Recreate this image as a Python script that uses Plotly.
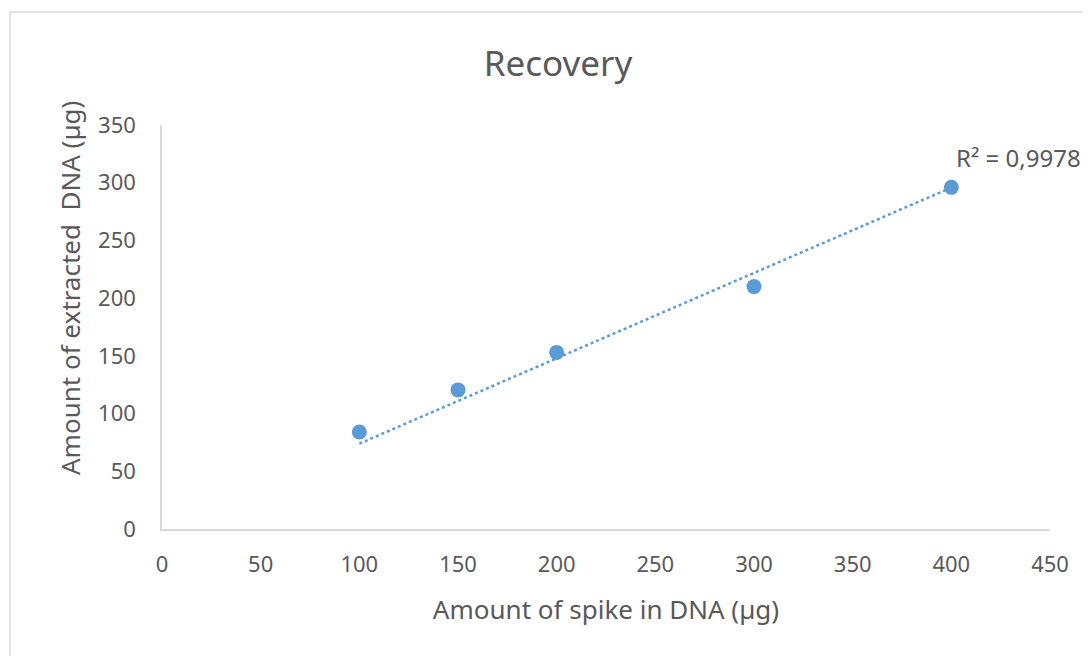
import numpy as np
import plotly.graph_objects as go

spike = [100, 150, 200, 300, 400]
extracted = [84, 120.5, 153, 210, 296]
x_ticks = [0, 50, 100, 150, 200, 250, 300, 350, 400, 450]
y_ticks = [0, 50, 100, 150, 200, 250, 300, 350]
r2_label = "R² = 0,9978"

# Linear trendline through origin (least squares, intercept = 0)
xs = np.array(spike, dtype=float)
ys = np.array(extracted, dtype=float)
slope = float((xs * ys).sum() / (xs * xs).sum())
trend_x = [min(spike), max(spike)]
trend_y = [slope * v for v in trend_x]

blue = "#5b9bd5"
grey_text = "#595959"
axis_col = "#d9d9d9"
font = "Noto Sans"

fig = go.Figure()
fig.add_trace(go.Scatter(x=trend_x, y=trend_y, mode="lines",
                         line=dict(color=blue, width=2.5, dash="dot"),
                         showlegend=False, hoverinfo="skip"))
fig.add_trace(go.Scatter(x=spike, y=extracted, mode="markers",
                         marker=dict(color=blue, size=15),
                         showlegend=False))

fig.add_annotation(x=400, y=296, xref="x", yref="y", text=r2_label,
                   showarrow=False, xanchor="left", yanchor="middle",
                   xshift=3, yshift=30,
                   font=dict(family=font, size=24, color=grey_text))

# page offset of ~8px in the browser is compensated in margins and size
W, H = 1083, 648
L, R, T, B = 154, 41, 117, 127
pw, ph = W - L - R, H - T - B
fig.add_shape(type="rect", xref="paper", yref="paper",
              x0=(2 - L) / pw, x1=(W + 20 - L) / pw,
              y0=-(B + 20) / ph, y1=(ph + T - 4) / ph,
              line=dict(color=axis_col, width=1.5), fillcolor="rgba(0,0,0,0)", layer="below")

# y-axis title placed as an annotation (it sits above the plot centre)
fig.add_annotation(xref="paper", yref="paper",
                   x=(62 - L) / pw, y=(H - B - 280) / ph,
                   text="Amount of extracted  DNA (µg)", textangle=-90,
                   showarrow=False, xanchor="center", yanchor="middle",
                   font=dict(family=font, size=26, color=grey_text))

fig.update_layout(
    width=W, height=H,
    margin=dict(l=L, r=R, t=T, b=B, autoexpand=False),
    paper_bgcolor="white", plot_bgcolor="white",
    title=dict(text="Recovery", x=(550 - L) / pw, xref="paper", xanchor="center",
               y=1 - 56 / H, yanchor="middle",
               font=dict(family=font, size=35, color=grey_text)),
    font=dict(family=font, color=grey_text),
    xaxis=dict(range=[0, 450], tickvals=x_ticks, showgrid=False, zeroline=False,
               showline=True, linecolor=axis_col, linewidth=1.5, ticks="",
               ticklabelstandoff=15,
               tickfont=dict(family=font, size=22, color=grey_text),
               title=dict(text="Amount of spike in DNA (µg)", standoff=24,
                          font=dict(family=font, size=26, color=grey_text))),
    yaxis=dict(range=[0, 350], tickvals=y_ticks, showgrid=False, zeroline=False,
               showline=True, linecolor=axis_col, linewidth=1.5, ticks="",
               ticklabelstandoff=20,
               tickfont=dict(family=font, size=22, color=grey_text)),
)

fig.write_html("out.html")
